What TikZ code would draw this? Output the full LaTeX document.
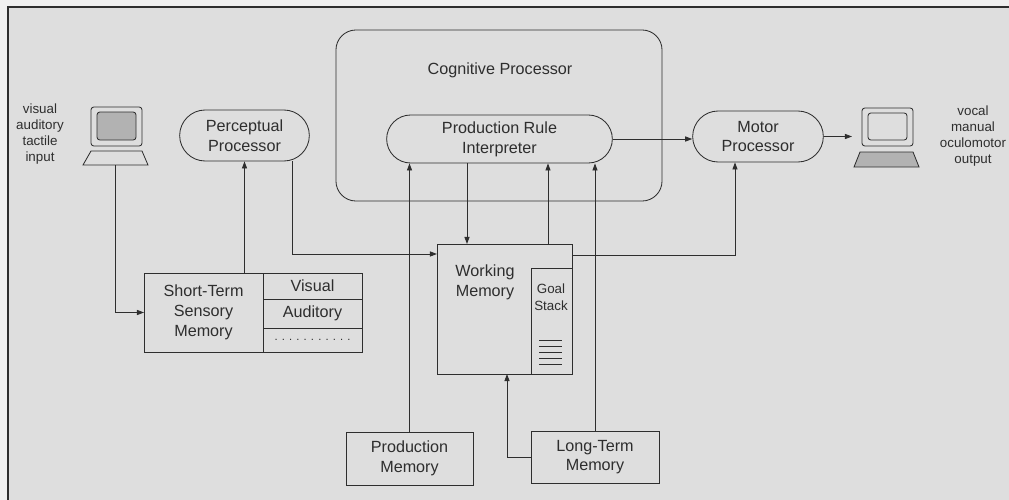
\documentclass[tikz,border=0pt]{standalone}
\usepackage{fontspec}
\setmainfont{Liberation Sans}
\usetikzlibrary{arrows.meta,shapes.misc}

\tikzset{
    proc/.style={draw,rounded rectangle,align=center,font=\fontsize{11.5}{14}\selectfont},
    mem/.style={draw,rectangle,outer sep=0pt,align=center,font=\fontsize{11.5}{14}\selectfont},
    small/.style={align=center,font=\fontsize{9.5}{11.4}\selectfont},
}

\begin{document}
\begin{tikzpicture}[x=0.025cm,y=-0.025cm,line width=0.6pt,color=black!82,>={Triangle[length=5pt,width=3.6pt]}]
                \fill[black!6] (0,0) rectangle (1009,500);
                \useasboundingbox (0,0) rectangle (1009,500);
                \draw[line width=1.4pt,fill=black!13] (8,7) rectangle (1020,510);

                \node[draw,rounded corners=0.5cm,minimum width=8.15cm,minimum height=4.275cm] (cog) at (499,115.5) {};
                \node[font=\fontsize{11.5}{14}\selectfont] (coglabel) at (500,70) {Cognitive Processor};
                \node[proc,minimum width=5.875cm,minimum height=1.2cm] (pri) at (499.5,139) {Production Rule\\Interpreter};
                \node[proc,minimum width=3.475cm,minimum height=1.275cm] (percep) at (244.5,135.5) {Perceptual\\Processor};
                \node[proc,minimum width=3.5cm,minimum height=1.275cm] (motor) at (758,136.5) {Motor\\Processor};

                \node[mem,minimum width=2.975cm,minimum height=1.975cm] (stsm) at (203.5,312.5) {Short-Term\\Sensory\\Memory};
                \node[mem,anchor=north west,minimum width=2.475cm,minimum height=0.65cm] (visual) at (stsm.north east) {Visual};
                \node[mem,anchor=north,minimum width=2.475cm,minimum height=0.725cm] (auditory) at (visual.south) {Auditory};
                \node[mem,anchor=north,minimum width=2.475cm,minimum height=0.6cm,font=\fontsize{8}{10}\selectfont] (dots) at (auditory.south) {. . . . . . . . . . .};

                \node[mem,minimum width=3.375cm,minimum height=3.25cm] (wm) at (504.5,309) {};
                \node[font=\fontsize{11.5}{14}\selectfont,align=center] (wmlabel) at (485,282) {Working\\Memory};
                \node[mem,anchor=south east,minimum width=1.025cm,minimum height=2.65cm] (goal) at (wm.south east) {};
                \node[align=center,font=\fontsize{9.5}{12}\selectfont] (goallabel) at (551,297) {Goal\\Stack};
                \foreach \y in {340,346,...,364}
                    \draw (539,\y) -- (562,\y);

                \node[mem,minimum width=3.175cm,minimum height=1.325cm] (prodmem) at (409.5,458.5) {Production\\Memory};
                \node[mem,minimum width=3.2cm,minimum height=1.3cm] (ltm) at (595,457) {Long-Term\\Memory};

                \node[small] (inlabel) at (40,134) {visual\\auditory\\tactile\\input};
                \node[small] (outlabel) at (973,136) {vocal\\manual\\oculomotor\\output};

                \draw[rounded corners=2pt] (91,107) rectangle (142,146);
                \draw[rounded corners=2pt,fill=black!30] (97,112) rectangle (136,140);
                \draw (91,151) -- (142,151) -- (148,165) -- (83,165) -- cycle;
                \coordinate (inpc) at (115,165);

                \draw[rounded corners=2pt] (862,108) rectangle (913,146);
                \draw[rounded corners=2pt] (868,113) rectangle (907,140);
                \draw[fill=black!30] (860,152) -- (913,152) -- (919,167) -- (854,167) -- cycle;
                \coordinate (outpc) at (852,136.5);

                \draw[->] (inpc) |- (stsm.west);
                \draw[->] (stsm.north -| percep.south) -- (percep.south);
                \draw[->] ([xshift=1.19cm]percep.south) |- ([yshift=-0.25cm]wm.north west);
                \draw[->] (pri.south -| 467,0) -- (wm.north -| 467,0);
                \draw[->] (wm.north -| 548,0) -- (pri.south -| 548,0);
                \draw[->] (prodmem.north) -- (prodmem.north |- pri.south);
                \draw[->] (ltm.north) -- (ltm.north |- pri.south);
                \draw[->] (ltm.west) -| (wm.south -| 507,0);
                \draw[->] ([yshift=-0.275cm]wm.north east) -| ([xshift=-0.575cm]motor.south);
                \draw[->] (pri.east) -- (pri.east -| motor.west);
                \draw[->] (motor.east) -- (outpc);
            \end{tikzpicture}
\end{document}
